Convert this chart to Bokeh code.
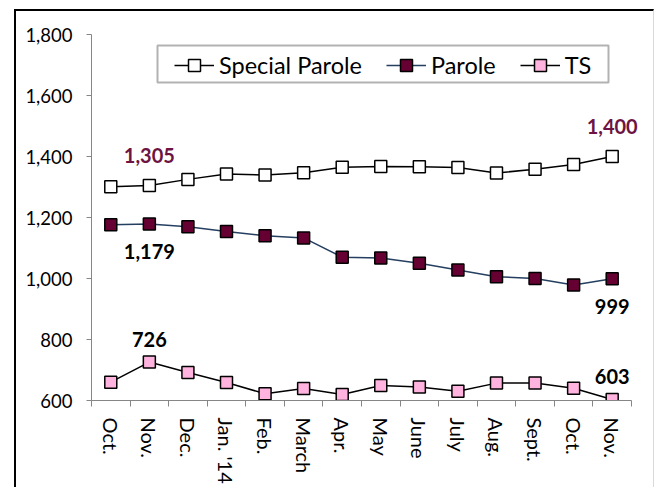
import math
from bokeh.plotting import figure
from bokeh.models import (Range1d, FixedTicker, NumeralTickFormatter, Legend, LegendItem,
                          ColumnDataSource, LabelSet, BoxAnnotation)
from bokeh.core.properties import value
from bokeh.embed import file_html
from bokeh.resources import INLINE

months = ["Oct.", "Nov.", "Dec.", "Jan. '14", "Feb.", "March", "Apr.", "May",
          "June", "July", "Aug.", "Sept.", "Oct.", "Nov."]
special_parole = [1301, 1305, 1325, 1343, 1339, 1347, 1365, 1367, 1366, 1364, 1346, 1358, 1374, 1400]
parole = [1176, 1179, 1170, 1154, 1140, 1133, 1070, 1067, 1050, 1028, 1006, 1000, 979, 999]
ts = [660, 726, 692, 659, 622, 639, 620, 649, 644, 630, 657, 657, 640, 603]
y_ticks = [600, 800, 1000, 1200, 1400, 1600, 1800]
labelled_points = [1, 13]  # indices of annotated months

FONT = "Lato"
x = list(range(1, len(months) + 1))

p = figure(width=640, height=478, x_range=Range1d(0.5, len(months) + 1.045),
           y_range=Range1d(y_ticks[0], y_ticks[-1]),
           output_backend="svg", toolbar_location=None,
           min_border_left=75, min_border_right=4, min_border_top=23, min_border_bottom=89)
p.styles = {"margin-left": "14px", "margin-top": "9px",
            "border-left": "2px solid black", "border-top": "2px solid black",
            "border-right": "1px solid #d9d9d9"}
p.outline_line_color = None
p.xgrid.visible = False
p.ygrid.visible = False
p.background_fill_color = "white"
p.border_fill_color = "white"

# legend frame (canvas units)
p.add_layout(BoxAnnotation(left=139, right=590, top=32, bottom=69,
                           left_units="canvas", right_units="canvas",
                           top_units="canvas", bottom_units="canvas",
                           fill_color="white", fill_alpha=1, line_color="black", line_width=2))

# axes
xa = p.xaxis[0]
xa.bounds = (0.5, len(months) + 0.5)
xa.ticker = FixedTicker(ticks=x, minor_ticks=[i + 0.5 for i in range(len(months) + 1)])
xa.major_label_overrides = {i: m for i, m in zip(x, months)}
xa.major_tick_out = 0
xa.major_tick_in = 0
xa.minor_tick_out = 6
xa.minor_tick_in = 0
xa.minor_tick_line_color = "#868686"
xa.axis_line_color = "#868686"
xa.major_label_orientation = -math.pi / 2
xa.major_label_text_font = FONT
xa.major_label_text_font_size = "20px"
xa.major_label_text_color = "black"
xa.major_label_standoff = 11

ya = p.yaxis[0]
ya.ticker = FixedTicker(ticks=y_ticks)
ya.formatter = NumeralTickFormatter(format="0,0")
ya.major_tick_out = 5
ya.major_tick_in = 0
ya.minor_tick_out = 0
ya.minor_tick_in = 0
ya.axis_line_color = "#868686"
ya.major_tick_line_color = "#868686"
ya.major_label_text_font = FONT
ya.major_label_text_font_size = "18.5px"
ya.major_label_text_color = "black"
ya.major_label_standoff = 14

series = [
    ("Special Parole", special_parole, "black", "white"),
    ("Parole", parole, "#243F60", "#660033"),
    ("TS", ts, "black", "#FFB3DE"),
]
items = []
for name, vals, lc, fc in series:
    src = ColumnDataSource(dict(x=x, y=vals))
    lr = p.line("x", "y", source=src, line_color=lc, line_width=1.5)
    sr = p.scatter("x", "y", source=src, marker="square", size=12,
                   fill_color=fc, line_color="black", line_width=1.5)
    items.append(LegendItem(label=name, renderers=[lr, sr]))

legend = Legend(items=items, orientation="horizontal", location=(83, 320),
                border_line_color=None, background_fill_alpha=0,
                label_text_font=FONT, label_text_font_size="23.5px", label_text_color="black",
                glyph_width=40, glyph_height=30, spacing=24, padding=4,
                label_standoff=5, margin=0)
p.add_layout(legend)

# value annotations
ann = [
    (special_parole, "#6E1442", 30),
    (parole, "black", -28),
    (ts, "black", 23),
]
for vals, col, off in ann:
    src = ColumnDataSource(dict(x=[x[i] for i in labelled_points],
                                y=[vals[i] for i in labelled_points],
                                t=[f"{vals[i]:,}" for i in labelled_points]))
    p.add_layout(LabelSet(x="x", y="y", text="t", source=src, y_offset=off,
                          text_align="center", text_baseline="middle",
                          text_font=value(FONT), text_font_size="20px",
                          text_font_style="bold", text_color=col))

open("out.html", "w").write(file_html(p, INLINE))
